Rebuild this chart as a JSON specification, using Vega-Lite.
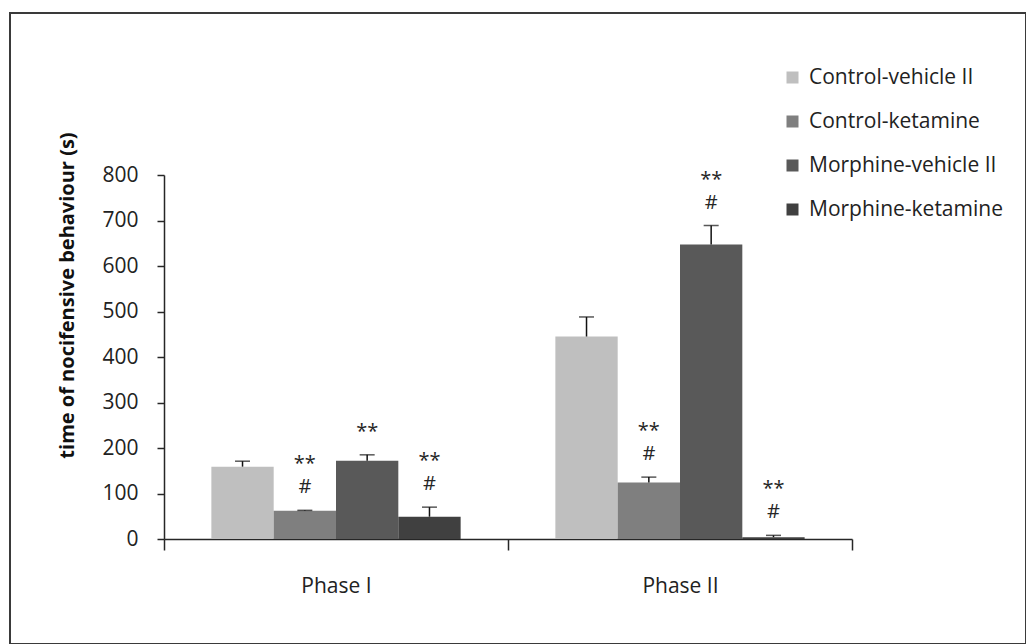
{
  "$schema": "https://vega.github.io/schema/vega-lite/v6.json",
  "width": 1016,
  "height": 631,
  "padding": {"left": 10, "top": 13, "right": 0, "bottom": 0},
  "autosize": {"type": "none"},
  "background": "white",
  "config": {
    "view": {"stroke": "#3a3a3a", "strokeWidth": 2},
    "font": "Open Sans"
  },
  "data": {
    "values": [
      {"phase": "Phase I", "group": "Control-vehicle II", "value": 159, "hi": 171, "ann": ""},
      {"phase": "Phase I", "group": "Control-ketamine", "value": 62, "hi": 63, "ann": "**\n#"},
      {"phase": "Phase I", "group": "Morphine-vehicle II", "value": 172, "hi": 185, "ann": "\n**"},
      {"phase": "Phase I", "group": "Morphine-ketamine", "value": 49, "hi": 70, "ann": "**\n#"},
      {"phase": "Phase II", "group": "Control-vehicle II", "value": 445, "hi": 488, "ann": ""},
      {"phase": "Phase II", "group": "Control-ketamine", "value": 124, "hi": 136, "ann": "**\n#"},
      {"phase": "Phase II", "group": "Morphine-vehicle II", "value": 647, "hi": 689, "ann": "**\n#"},
      {"phase": "Phase II", "group": "Morphine-ketamine", "value": 4, "hi": 8, "ann": "**\n#"}
    ]
  },
  "encoding": {
    "x": {
      "field": "phase",
      "type": "nominal",
      "scale": {"range": [154, 842], "paddingInner": 0, "paddingOuter": 0},
      "axis": {
        "title": null,
        "orient": "bottom",
        "offset": -105,
        "tickBand": "extent",
        "tickSize": 11,
        "tickWidth": 1.5,
        "tickColor": "#262626",
        "domainColor": "#262626",
        "domainWidth": 1.5,
        "labelAngle": 0,
        "labelFontSize": 21,
        "labelColor": "#222222",
        "labelPadding": 25,
        "labelBaseline": "top",
        "grid": false
      }
    },
    "xOffset": {
      "field": "group",
      "type": "nominal",
      "sort": ["Control-vehicle II", "Control-ketamine", "Morphine-vehicle II", "Morphine-ketamine"],
      "scale": {"paddingInner": 0, "paddingOuter": 0.76}
    },
    "y": {
      "field": "value",
      "type": "quantitative",
      "scale": {"domain": [0, 800], "range": [526, 162], "nice": false, "zero": true},
      "axis": {
        "title": "time of nocifensive  behaviour (s)",
        "offset": -154,
        "values": [0, 100, 200, 300, 400, 500, 600, 700, 800],
        "grid": false,
        "tickSize": 7,
        "tickWidth": 1.5,
        "tickColor": "#262626",
        "domainColor": "#262626",
        "domainWidth": 1.5,
        "labelFontSize": 21,
        "labelColor": "#222222",
        "labelPadding": 19,
        "titleFontSize": 20,
        "titleFontWeight": "bold",
        "titleColor": "#111111",
        "titleAngle": -90,
        "titleX": -97,
        "titleY": 282,
        "titleAlign": "center",
        "titleBaseline": "middle"
      }
    }
  },
  "layer": [
    {
      "mark": {"type": "bar", "stroke": null},
      "encoding": {
        "color": {
          "field": "group",
          "type": "nominal",
          "scale": {
            "domain": ["Control-vehicle II", "Control-ketamine", "Morphine-vehicle II", "Morphine-ketamine"],
            "range": ["#bfbfbf", "#7f7f7f", "#595959", "#404040"]
          },
          "legend": {
            "title": null,
            "orient": "none",
            "legendX": 772,
            "legendY": 54,
            "padding": 0,
            "symbolType": "square",
            "symbolSize": 144,
            "symbolStrokeWidth": 0,
            "labelFontSize": 21,
            "labelColor": "#222222",
            "labelOffset": 6,
            "labelLimit": 300,
            "rowPadding": 22
          }
        }
      }
    },
    {
      "mark": {"type": "rule", "color": "#111111", "strokeWidth": 1.5},
      "encoding": {"y2": {"field": "hi"}}
    },
    {
      "mark": {"type": "tick", "color": "#111111", "size": 15, "thickness": 1.5},
      "encoding": {"y": {"field": "hi", "type": "quantitative"}}
    },
    {
      "mark": {"type": "text", "lineBreak": "\n", "baseline": "bottom", "dy": -36, "lineHeight": 23, "fontSize": 20, "color": "#262626"},
      "encoding": {
        "y": {"field": "hi", "type": "quantitative"},
        "text": {"field": "ann"}
      }
    }
  ]
}
